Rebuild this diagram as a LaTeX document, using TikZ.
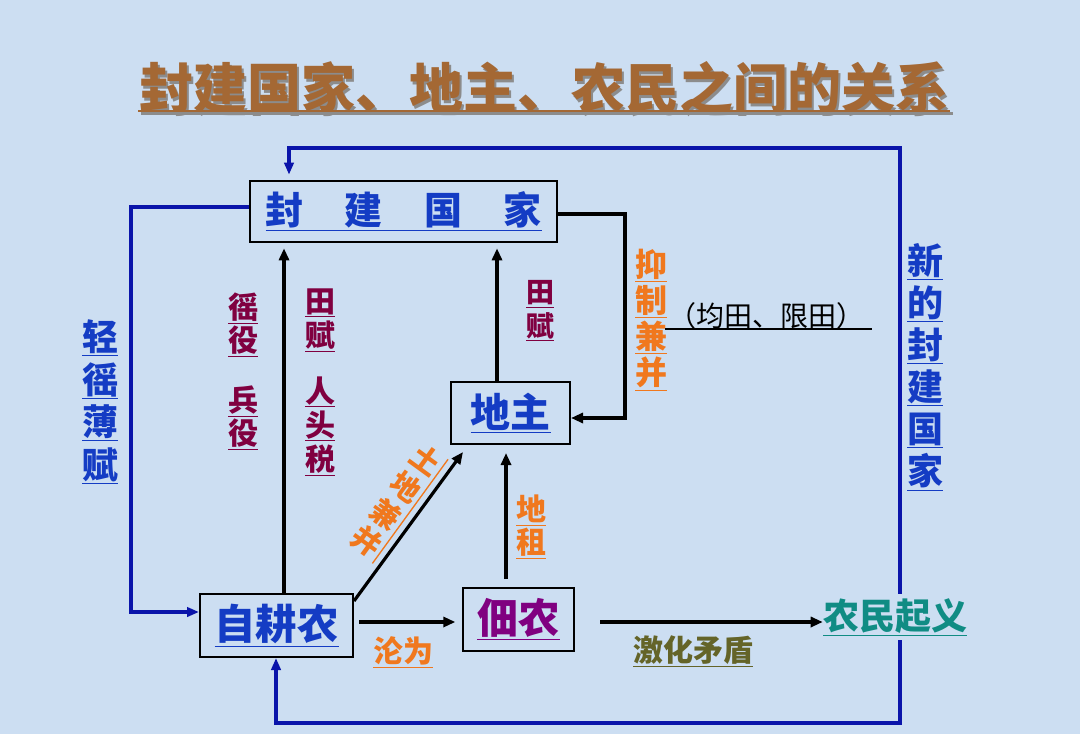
\documentclass[tikz,border=0pt]{standalone}
\usepackage{fontspec}
\newfontfamily\cjk{Noto Sans CJK SC}
\usetikzlibrary{arrows.meta}
\definecolor{bg}{RGB}{204,222,242}
\definecolor{titlebrown}{RGB}{164,104,52}
\definecolor{tblue}{RGB}{20,60,196}
\definecolor{lblue}{RGB}{10,20,170}
\definecolor{maroon}{RGB}{128,0,64}
\definecolor{orng}{RGB}{240,120,30}
\definecolor{purp}{RGB}{128,0,128}
\definecolor{teal2}{RGB}{16,140,132}
\definecolor{olive2}{RGB}{100,100,40}
\newcommand\myul[1]{\underline{#1}}
\newcommand\fsz[2]{\fontsize{#1}{#2}\selectfont}
\begin{document}
\begin{tikzpicture}[x=0.75pt,y=-0.75pt,
  every node/.style={font=\cjk\bfseries, inner sep=0pt},
  box/.style={draw=black, line width=1.5pt, inner sep=0pt},
  arr/.style={draw=black, line width=2.4pt, -{Triangle[length=9pt,width=7.5pt]}},
  barr/.style={draw=lblue, line width=2.3pt, -{Triangle[length=9pt,width=7pt]}},
  vlab/.style={align=center}]
\fill[bg] (0,0) rectangle (1080,734);
\useasboundingbox (0,0) rectangle (1080,734);

% title
\node[text=black!45, font=\cjk\bfseries\fsz{40.5}{44}] (tsh) at (546.5,90.5) {封建国家、地主、农民之间的关系};
\node[text=titlebrown, font=\cjk\bfseries\fsz{40.5}{44}] (title) at (544,88) {封建国家、地主、农民之间的关系};
\coordinate (tu1) at (138,111);
\coordinate (tu2) at (950,111);
\draw[black!45, line width=2.2pt] ([shift={(2.5,2.5)}]tu1) -- ([shift={(2.5,2.5)}]tu2);
\draw[titlebrown, line width=2.2pt] (tu1) -- (tu2);

% boxes
\node[box, minimum width=230.25pt, minimum height=45.75pt, text=tblue, font=\cjk\bfseries\fsz{28.5}{32}] (fjgj) at (403.5,211.5)
  {\myul{封\hspace{31pt}建\hspace{31pt}国\hspace{31pt}家}};
\node[box, minimum width=89.25pt, minimum height=46.5pt, text=tblue, font=\cjk\bfseries\fsz{30}{34}] (dz) at (510.5,413)
  {\myul{地主}};
\node[box, minimum width=114.75pt, minimum height=47.25pt, text=tblue, font=\cjk\bfseries\fsz{31}{34}] (zgn) at (276.5,625.5)
  {\myul{自耕农}};
\node[box, minimum width=83.25pt, minimum height=47.25pt, text=purp, font=\cjk\bfseries\fsz{31}{34}] (dn) at (518.5,619.5)
  {\myul{佃农}};
\node[text=teal2, inner ysep=3pt, font=\cjk\bfseries\fsz{27}{30}] (nmqy) at (895,617) {\myul{农民起义}};

% labels
\node[vlab, text=tblue, font=\cjk\bfseries\fsz{27}{32}] (l1) at (100,402) {\myul{轻}\\\myul{徭}\\\myul{薄}\\\myul{赋}};
\node[vlab, text=maroon, font=\cjk\bfseries\fsz{22.5}{25}] (l2) at (243,325) {\myul{徭}\\\myul{役}};
\node[vlab, text=maroon, font=\cjk\bfseries\fsz{22.5}{25}] (l3) at (243,418) {\myul{兵}\\\myul{役}};
\node[vlab, text=maroon, font=\cjk\bfseries\fsz{22.5}{25.5}] (l4) at (320,320) {\myul{田}\\\myul{赋}};
\node[vlab, text=maroon, font=\cjk\bfseries\fsz{22.5}{25.5}] (l5) at (320,426) {\myul{人}\\\myul{头}\\\myul{税}};
\node[vlab, text=maroon, font=\cjk\bfseries\fsz{21}{25}] (l6) at (540,311) {\myul{田}\\\myul{赋}};
\node[vlab, text=orng, font=\cjk\bfseries\fsz{24}{27}] (l7) at (651,320) {\myul{抑}\\\myul{制}\\\myul{兼}\\\myul{并}};
\node[text=black, font=\cjk\fsz{21}{24}] (l8) at (766,316) {（均田、限田）};
\coordinate (u1) at (665,329);
\coordinate (u2) at (872,329);
\draw[black, line width=1.5pt] (u1) -- (u2);
\node[vlab, text=tblue, font=\cjk\bfseries\fsz{27}{31.5}] (l9) at (925,367) {\myul{新}\\\myul{的}\\\myul{封}\\\myul{建}\\\myul{国}\\\myul{家}};
\node[vlab, text=orng, font=\cjk\bfseries\fsz{22.5}{24.5}] (l10) at (531,527) {\myul{地}\\\myul{租}};
\node[text=orng, font=\cjk\bfseries\fsz{22.5}{25}] (l11) at (403,652) {\myul{沦为}};
\node[text=olive2, font=\cjk\bfseries\fsz{22.5}{25}] (l12) at (693,651) {\myul{激化矛盾}};
\node[vlab, text=orng, rotate=-36, inner xsep=2pt, font=\cjk\bfseries\fsz{22}{25}] (l13) at (396,501) {土\\地\\兼\\并};
\draw[orng, line width=1pt] (l13.north east) -- (l13.south east);

% blue connectors
\coordinate (tr) at (900,148);
\coordinate (tl) at (289,148);
\draw[barr, shorten >=4pt] (nmqy.north -| tr) -- (tr) -- (tl) -- (tl |- fjgj.north);
\coordinate (br) at (900,723);
\coordinate (bll) at (276,723);
\draw[barr] (nmqy.south -| br) -- (br) -- (bll) -- (bll |- zgn.south);
\coordinate (lb1) at (131,207);
\coordinate (lb2) at (131,612);
\draw[barr] (fjgj.west |- lb1) -- (lb1) -- (lb2) -- (zgn.west |- lb2);

% black connectors
\coordinate (a1) at (284,0);
\draw[arr, shorten >=4pt] (zgn.north -| a1) -- (fjgj.south -| a1);
\coordinate (a2) at (497,0);
\draw[arr, shorten >=4pt] (dz.north -| a2) -- (fjgj.south -| a2);
\coordinate (r1) at (625,214);
\coordinate (r2) at (625,418);
\draw[arr] (fjgj.east |- r1) -- (r1) -- (r2) -- (dz.east |- r2);
\draw[arr] ([shift={(0,8)}]zgn.north east) -- ([shift={(13,7)}]dz.south west);
\coordinate (a3) at (506,0);
\draw[arr, shorten >=6pt, shorten <=6pt] (dn.north -| a3) -- (dz.south -| a3);
\coordinate (h1) at (0,622);
\draw[arr, shorten >=5pt, shorten <=4pt] (zgn.east |- h1) -- (dn.west |- h1);
\draw[arr, shorten <=19pt] (dn.east |- h1) -- (nmqy.west |- h1);
\end{tikzpicture}
\end{document}
